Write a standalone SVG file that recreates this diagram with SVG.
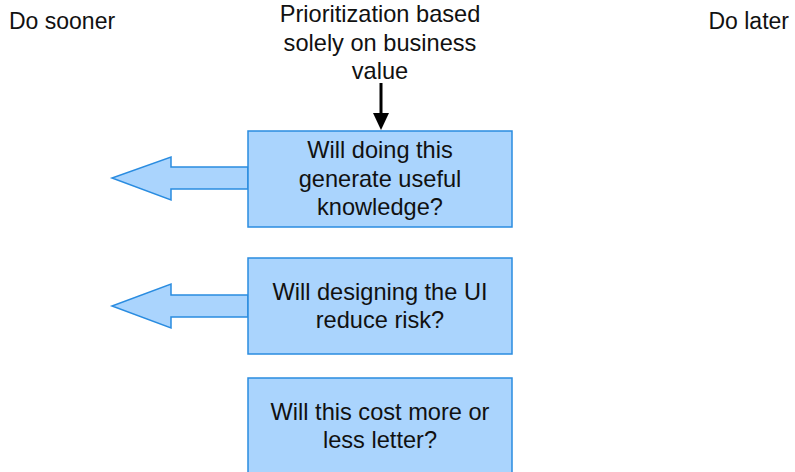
<svg xmlns="http://www.w3.org/2000/svg" width="795" height="472" viewBox="0 0 795 472">
<style>
.box{fill:#aad4fd;stroke:#2a8ce0;stroke-width:1.5}
.barrow{fill:#aad4fd;stroke:#2a8ce0;stroke-width:1.5;stroke-linejoin:miter}
text{font-family:"Liberation Sans",Arial,sans-serif;font-size:23.6px;fill:#111}
.c{text-anchor:middle}
</style>
<rect width="795" height="472" fill="#ffffff"/>
<g id="label-sooner"><text x="9" y="29" style="font-size:23px">Do sooner</text></g>
<g id="label-later"><text x="789" y="29" text-anchor="end" style="font-size:23px">Do later</text></g>
<g id="label-top">
<text class="c" x="380" y="22">Prioritization based</text>
<text class="c" x="380" y="51">solely on business</text>
<text class="c" x="380" y="79">value</text>
</g>
<g id="connectors">
<line x1="381" y1="83" x2="381" y2="115" stroke="#000" stroke-width="3"/>
<polygon points="373,113 389,113 381,130" fill="#000"/>
<polygon class="barrow" points="248,167 171,167 171,157 112,178 171,200 171,189 248,189"/>
<polygon class="barrow" points="248,295 171,295 171,284 112,306 171,328 171,317 248,317"/>
</g>
<g id="node-1">
<rect class="box" x="248" y="131" width="264" height="96"/>
<text class="c" x="380" y="158">Will doing this</text>
<text class="c" x="380" y="187">generate useful</text>
<text class="c" x="380" y="215">knowledge?</text>
</g>
<g id="node-2">
<rect class="box" x="248" y="258" width="264" height="96"/>
<text class="c" x="380" y="300">Will designing the UI</text>
<text class="c" x="380" y="328">reduce risk?</text>
</g>
<g id="node-3">
<rect class="box" x="248" y="378" width="264" height="100"/>
<text class="c" x="380" y="420">Will this cost more or</text>
<text class="c" x="380" y="448">less letter?</text>
</g>
</svg>
